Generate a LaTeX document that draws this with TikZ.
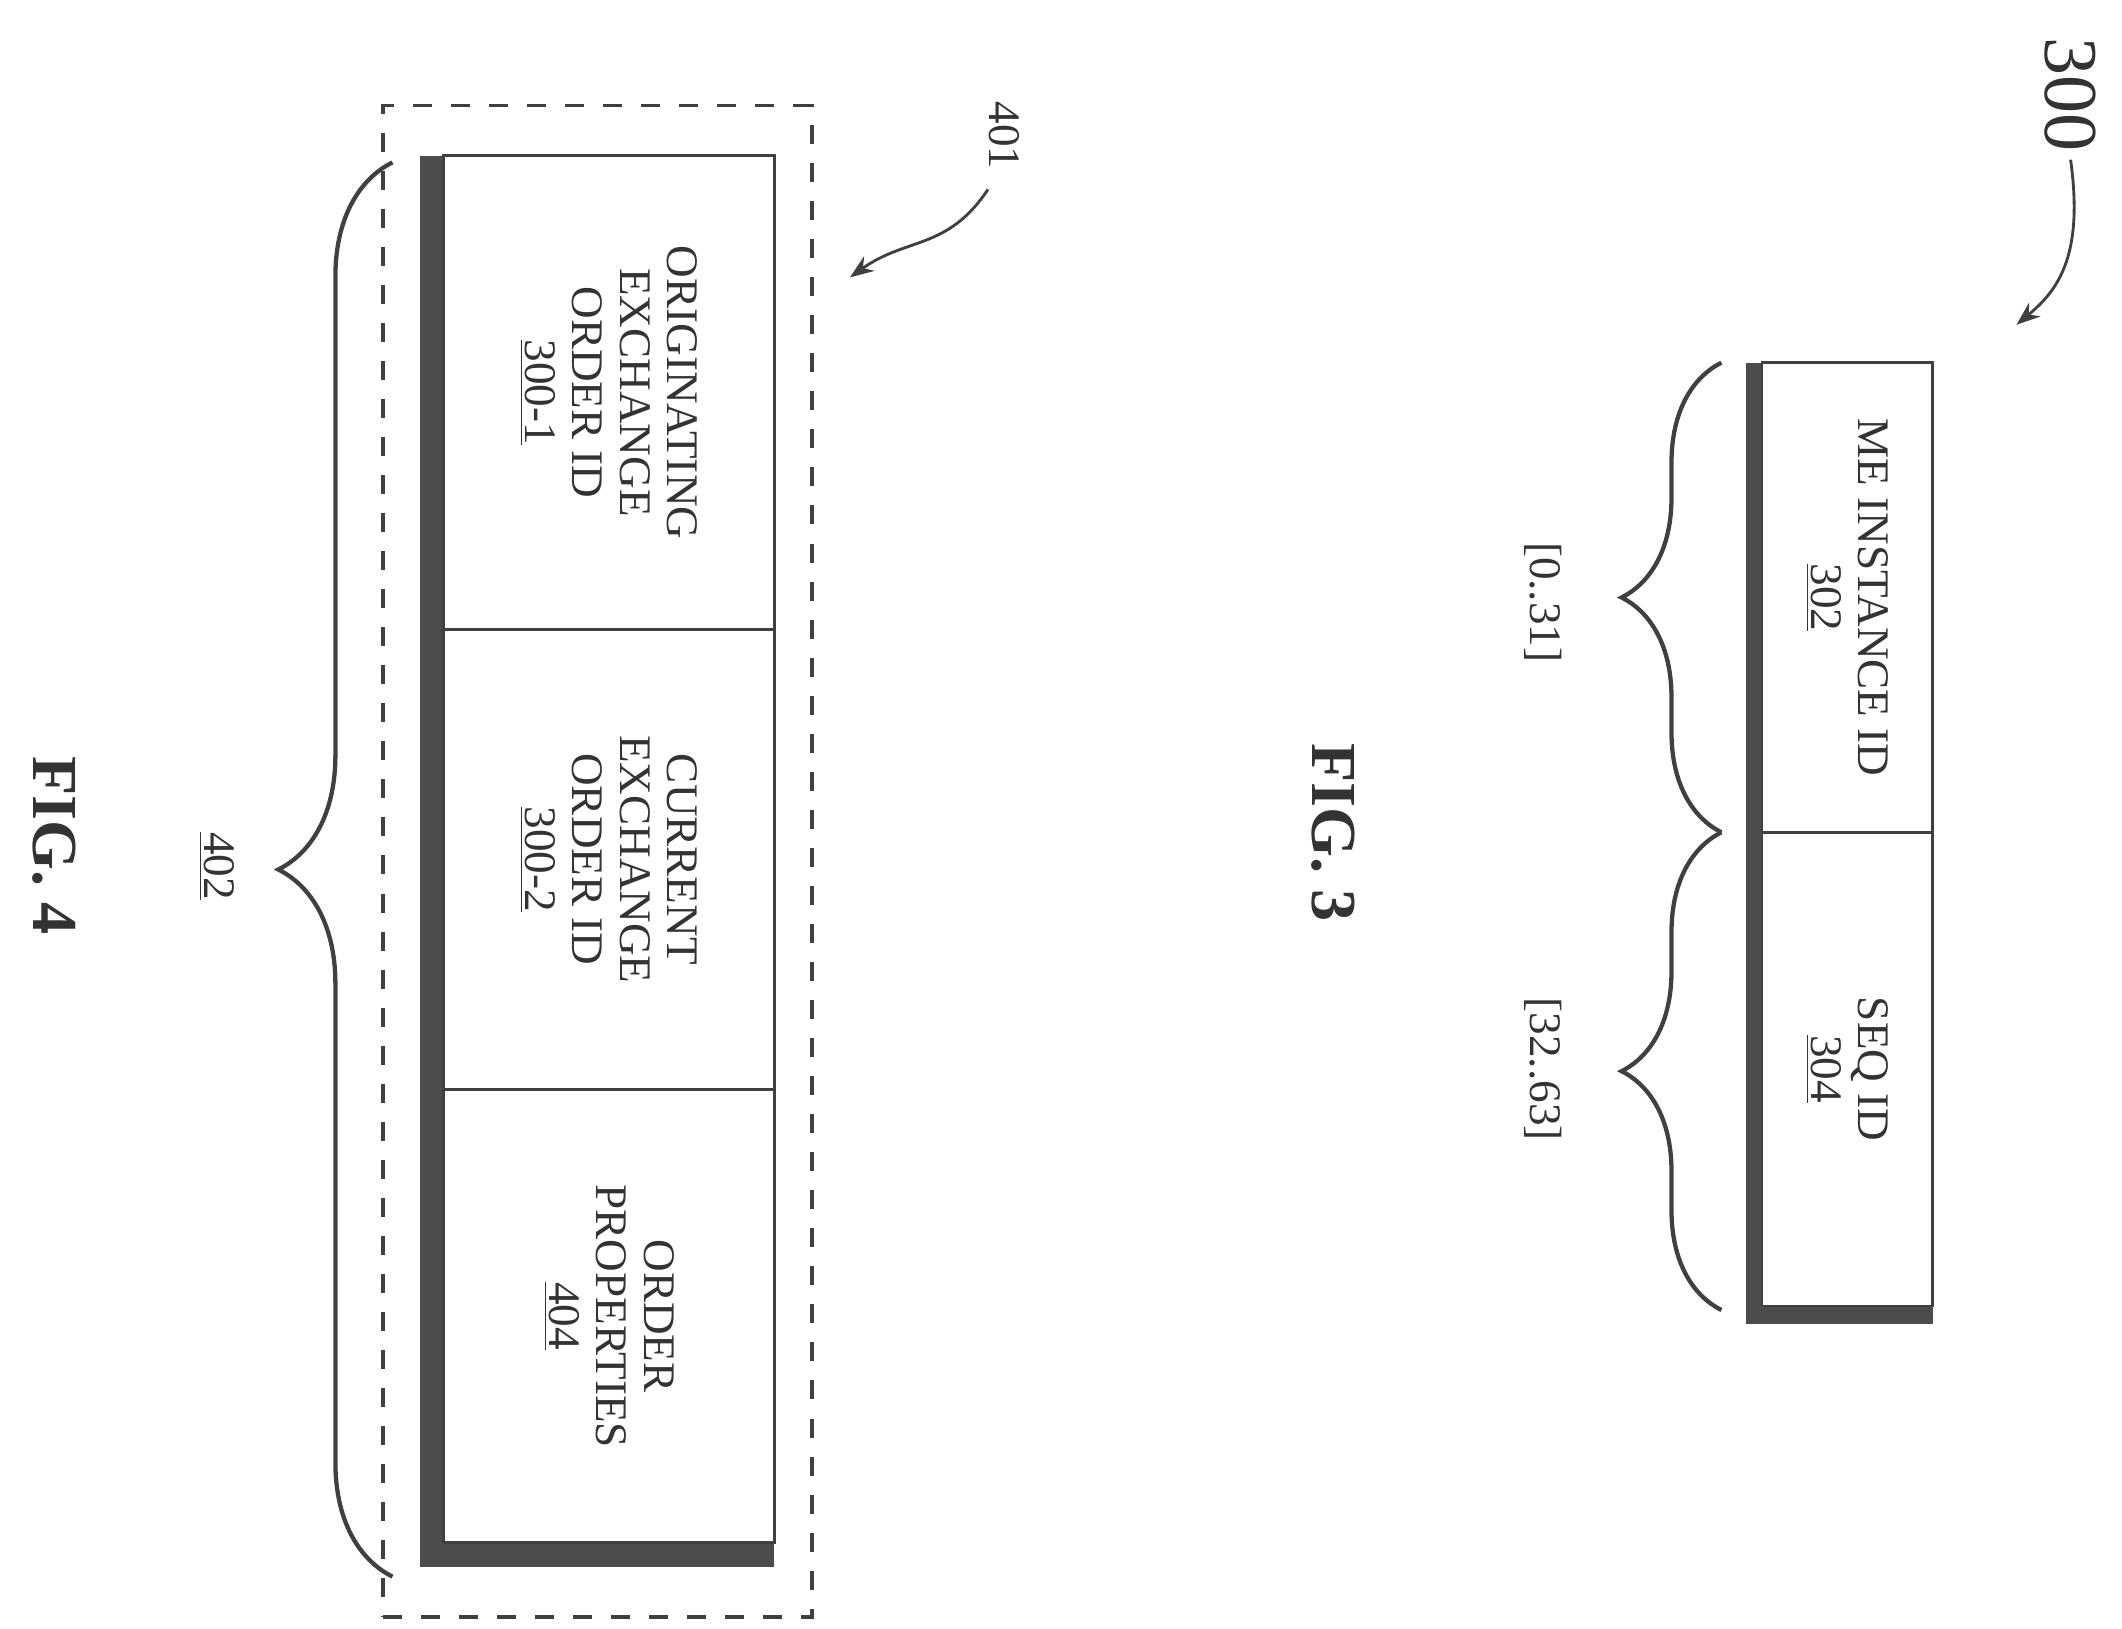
\documentclass[tikz,border=0pt]{standalone}
\usepackage{fontspec}
\setmainfont{Liberation Serif}
\usetikzlibrary{decorations.pathreplacing,arrows.meta}
\begin{document}
\begin{tikzpicture}[x=0.02cm,y=-0.02cm,
  ink/.style={draw=black!75},
  txt/.style={rotate=-90,align=center,font=\fontsize{19}{20}\selectfont,text=black!80},
  fig/.style={rotate=-90,font=\fontsize{27}{30}\selectfont\bfseries,text=black!80},
  br/.style={ink,line width=1.8pt,decorate,decoration={brace,amplitude=42}}]
\useasboundingbox (0,0) rectangle (1568,1203);
% FIG 3
\fill[black!70] (1290,268) rectangle (1428,978);
\node[draw=black!75,fill=white,line width=1.2pt,minimum width=126*0.02cm,minimum height=347*0.02cm,inner sep=0] (me) at (1365,441.5) {};
\node[draw=black!75,fill=white,line width=1.2pt,minimum width=126*0.02cm,minimum height=350*0.02cm,inner sep=0] (seq) at (1365,790) {};
\node[txt] (met) at (me.center) {ME INSTANCE ID\\\underline{302}};
\node[txt] (seqt) at (seq.center) {SEQ ID\\\underline{304}};
\coordinate (b1t) at (1272,268); \coordinate (b1b) at (1272,615); \coordinate (b2b) at (1272,968);
\draw[br] (b1b) -- (b1t);
\draw[br] (b2b) -- (b1b);
\node[txt] (l1) at (1140,445) {[0..31]};
\node[txt] (l2) at (1140,790) {[32..63]};
\node[rotate=-90,font=\fontsize{32}{34}\selectfont,text=black!80] (n300) at (1530,70) {300};
\coordinate (a300) at (1490,240);
\draw[ink,line width=1.2pt,-{Stealth[length=10pt]}] (1530,118) .. controls (1540,190) and (1520,215) .. (a300);
\node[fig] (f3) at (985,615) {FIG. 3};
% FIG 4
\node[draw=black!75,dash pattern=on 8pt off 8pt,line width=1.5pt,minimum width=317*0.02cm,minimum height=1117*0.02cm,inner sep=0] (dash) at (441.5,636.5) {};
\fill[black!70] (310,115) rectangle (572,1158);
\node[draw=black!75,fill=white,line width=1.2pt,minimum width=244*0.02cm,minimum height=350*0.02cm,inner sep=0] (o1) at (450,290) {};
\node[draw=black!75,fill=white,line width=1.2pt,minimum width=244*0.02cm,minimum height=340*0.02cm,inner sep=0] (o2) at (450,635) {};
\node[draw=black!75,fill=white,line width=1.2pt,minimum width=244*0.02cm,minimum height=335*0.02cm,inner sep=0] (o3) at (450,972.5) {};
\node[txt] at (o1.center) {ORIGINATING\\EXCHANGE\\ORDER ID\\\underline{300-1}};
\node[txt] at (o2.center) {CURRENT\\EXCHANGE\\ORDER ID\\\underline{300-2}};
\node[txt] at (o3.center) {ORDER\\PROPERTIES\\\underline{404}};
\coordinate (b4t) at (290,120); \coordinate (b4b) at (290,1165);
\draw[br,decoration={brace,amplitude=48}] (b4b) -- (b4t);
\node[txt] (n402) at (160,640) {\underline{402}};
\node[txt] (n401) at (742,100) {401};
\coordinate (a401) at (628,205);
\draw[ink,line width=1.2pt,-{Stealth[length=10pt]}] (730,140) .. controls (700,185) and (670,175) .. (a401);
\node[fig] (f4) at (40,625) {FIG. 4};
\end{tikzpicture}
\end{document}
